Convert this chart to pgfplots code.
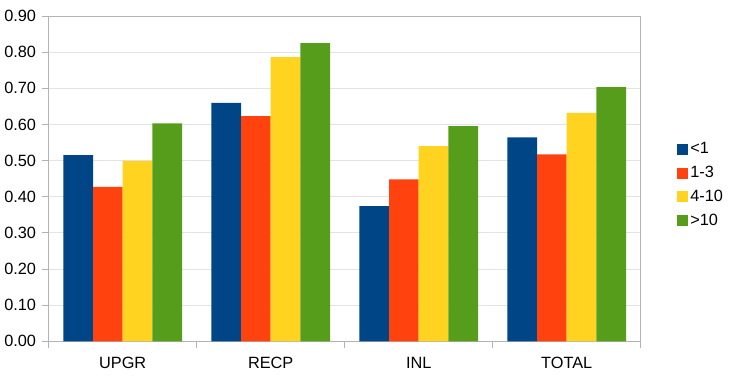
\documentclass[border=0pt]{standalone}
\usepackage{pgfplots}
\pgfplotsset{compat=1.18}
\usepackage{fontspec}
\setmainfont{Liberation Sans}
\definecolor{c1}{HTML}{004586}
\definecolor{c2}{HTML}{FF420E}
\definecolor{c3}{HTML}{FFD320}
\definecolor{c4}{HTML}{579D1C}
\definecolor{axgray}{HTML}{B3B3B3}
\definecolor{gridgray}{HTML}{E3E3E3}
\pgfplotsset{ybar legend/.style={legend image code/.code={\fill[##1,draw=none] (0pt,-5.5pt) rectangle (11pt,5.5pt);}}}
\begin{document}
\fontsize{16.3}{19}\selectfont
\begin{tikzpicture}
\useasboundingbox (0,0) rectangle (747pt,383pt);
\begin{axis}[
  at={(48.7pt,41.7pt)}, anchor=south west,
  scale only axis, width=592pt, height=325.3pt,
  ybar=0pt, bar width=29.7pt,
  xmin=-0.5, xmax=3.5, ymin=0, ymax=0.9,
  xtick={0,1,2,3}, xticklabels={UPGR,RECP,INL,TOTAL},
  minor xtick={-0.5,0.5,1.5,2.5,3.5},
  ytick={0,0.1,...,0.9},
  xtick pos=bottom, ytick pos=left,
  major x tick style={draw=none},
  tick align=outside, major tick length=7pt, minor tick length=7pt,
  tick style={axgray, line width=0.8pt},
  axis line style={axgray, line width=0.8pt},
  ymajorgrids, major grid style={gridgray, line width=0.8pt},
  yticklabel style={/pgf/number format/.cd, fixed, fixed zerofill, precision=2},
  /pgf/number format/assume math mode=true,
  xticklabel style={yshift=-3pt},
  tick label style={font=\fontsize{16.3}{19}\selectfont},
  legend style={at={(1,0.5)}, anchor=west, xshift=33pt, yshift=-6.5pt, draw=none, fill=none,
    font=\fontsize{16.3}{19}\selectfont, row sep=5pt,
    nodes={inner sep=2.5pt}},
  legend cell align=left,
  every axis plot/.append style={draw=none},
]
\addplot[fill=c1] coordinates {(0,0.515) (1,0.660) (2,0.374) (3,0.564)};
\addplot[fill=c2] coordinates {(0,0.427) (1,0.623) (2,0.448) (3,0.517)};
\addplot[fill=c3] coordinates {(0,0.499) (1,0.786) (2,0.540) (3,0.632)};
\addplot[fill=c4] coordinates {(0,0.603) (1,0.825) (2,0.595) (3,0.703)};
\legend{{<1},{1-3},{4-10},{>10}}
\end{axis}
\end{tikzpicture}
\end{document}
